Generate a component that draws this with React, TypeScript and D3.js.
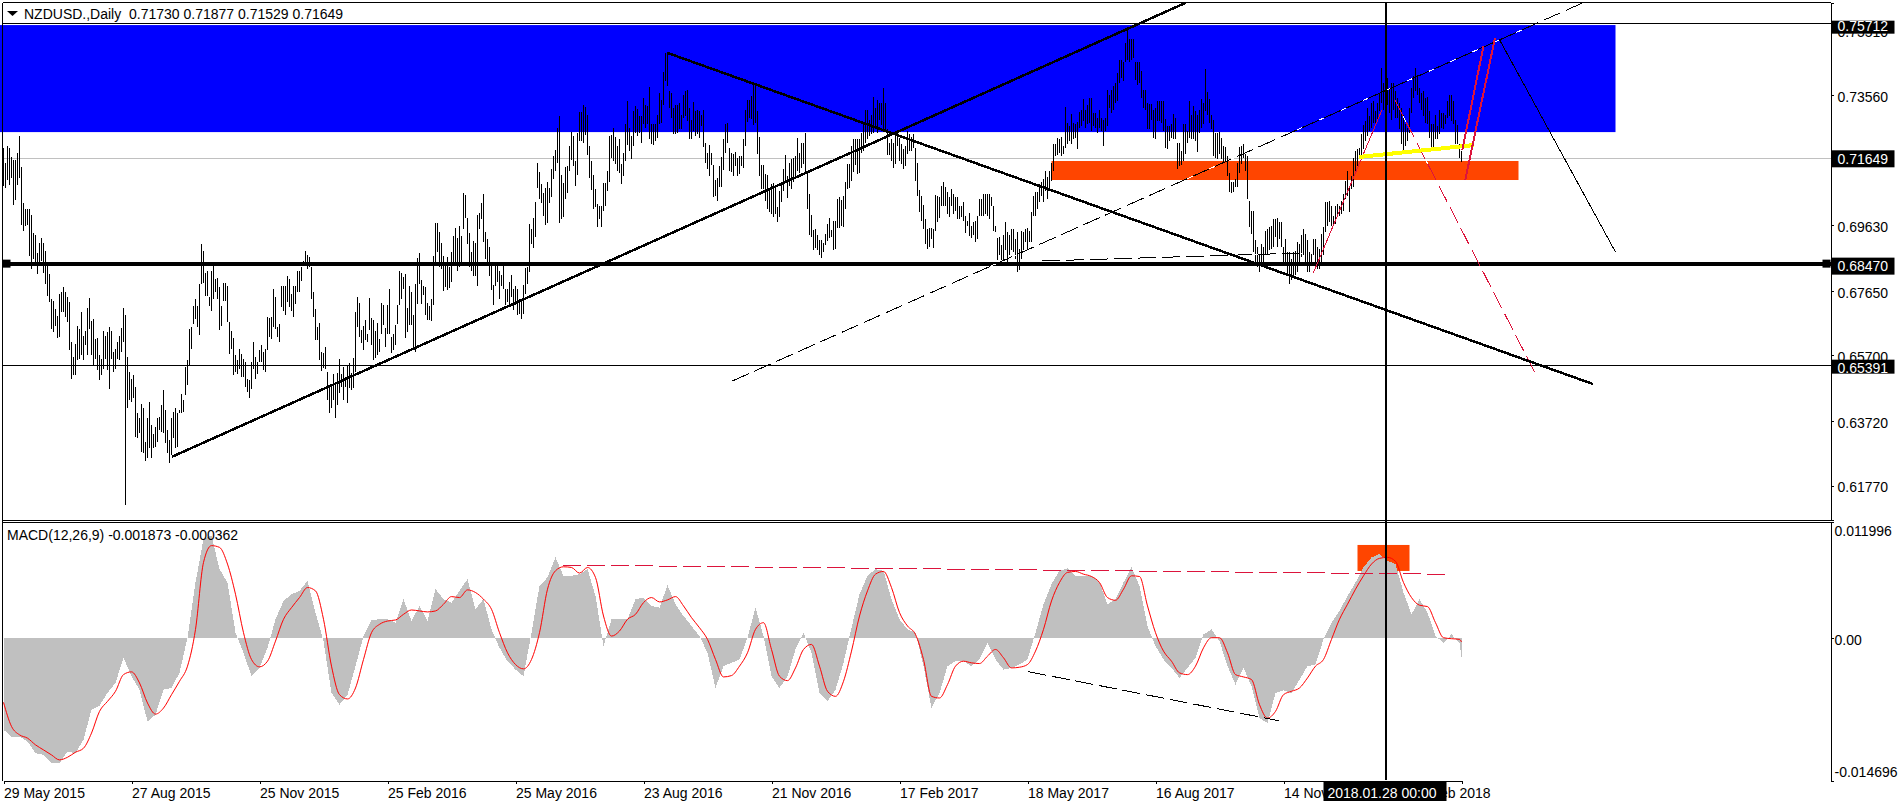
import { useEffect, useRef } from 'react'
import * as d3 from 'd3'

// Daily bars, in 1/10000 of a price unit
const barHighs = [
  7195,7150,7203,7195,7170,7160,7160,7180,7232,7140,7030,7012,7012,7012,6995,6940,6932,6880,6910,6925,
  6910,6885,6840,6815,6740,6735,6710,6690,6755,6760,6775,6760,6745,6730,6610,6565,6605,6660,6650,6702,
  6630,6645,6712,6742,6675,6680,6620,6622,6570,6560,6645,6630,6640,6655,6645,6580,6590,6612,6630,6652,
  6712,6692,6565,6520,6500,6510,6475,6395,6380,6422,6410,6310,6380,6430,6360,6332,6355,6380,6385,6420,
  6465,6405,6345,6315,6380,6400,6410,6395,6405,6455,6435,6535,6555,6650,6655,6720,6740,6720,6785,6905,
  6885,6820,6825,6745,6825,6845,6800,6805,6775,6720,6790,6790,6780,6670,6645,6622,6570,6555,6588,6575,
  6560,6550,6500,6495,6550,6610,6565,6550,6585,6602,6580,6590,6685,6682,6685,6770,6745,6655,6665,6780,
  6780,6780,6810,6800,6755,6780,6780,6825,6825,
  6836,6856,6884,6873,6866,6836,6761,6711,6656,6668,6581,6576,6596,6521,6481,6476,6513,6491,6516,6559,
  6513,6536,6506,6541,6546,6516,6561,6701,6746,6729,6646,6659,6676,6636,6743,6683,6676,6643,6669,6621,
  6729,6721,6653,6723,6771,6626,6636,6661,6721,6825,6819,6806,6816,6713,6781,6761,6691,6786,6863,6879,
  6799,6781,6776,6729,6719,6741,6869,6969,6969,6941,6909,6871,6841,6866,6836,6881,6931,6956,6925,6961,
  6931,7059,7053,6986,6939,6881,6914,6909,6993,7001,7029,7056,6943,6921,6896,6851,6783,6851,6846,6826,
  6813,6846,6771,6771,6791,6813,6771,6781,6771,6741,6736,6783,6834,6836,6966,6953,6986,7033,7151,7124,
  7086,7061,7074,7094,7076,7133,7173,7191,7256,7293,7116,7091,7139,7143,7201,7243,7231,7156,7241,7306,
  7306,7326,7319,7296,7203,7158,7116,
  7072,7027,7022,7022,7090,7090,7127,7232,7234,7257,7230,7202,7222,7147,7182,7267,7339,7257,7232,7307,
  7324,7314,7294,7294,7347,7327,7322,7380,7267,7267,7267,7297,7362,7342,7424,7484,7484,7367,7362,7317,
  7327,7327,7332,7297,7357,7367,7372,7317,7282,7334,7307,7310,7307,7297,7312,7212,7182,7204,7182,7144,
  7100,7104,7142,7170,7222,7267,7270,7197,7180,7177,7184,7167,7172,7172,7222,7312,7340,7342,7352,7392,
  7387,7307,7230,7144,7144,7117,7114,7072,7087,7090,7077,7017,7067,7092,7134,7174,7112,7152,7162,7167,
  7172,7225,7182,7210,7212,7242,7122,7057,6994,6950,6952,6932,6917,6917,6910,6937,6967,6984,6950,6977,
  6977,7042,7047,7040,7050,7092,7147,7147,7202,7222,7222,7222,7224,7240,7272,7310,7312,7282,7297,7350,
  7317,7342,7332,7332,7377,7332,7252,7212,
  7222,7212,7237,7242,7227,7207,7192,7202,7247,7237,7230,7237,7197,7152,7070,7052,7024,6982,6952,6954,
  6954,6952,7054,7052,7047,7080,7092,7077,7062,7047,7072,7057,7047,7047,7022,7022,7032,6992,6977,7000,
  6962,6974,6977,6992,7042,7042,7057,7057,7057,7057,7047,7022,6962,6924,6927,6902,6932,6972,6942,6932,
  6952,6952,6922,6942,6892,6947,6942,6952,6954,6947,7002,7050,7062,7062,7087,7092,7102,7127,7107,7127,
  7152,7207,7207,7227,7224,7230,7202,7320,7270,7262,7300,7272,7267,7274,7304,7312,7344,7312,7327,7347,
  7347,7302,7302,7287,7312,7287,7282,7287,7372,7357,7372,7382,7392,7422,7462,7462,7457,7512,7552,7524,
  7524,7524,7457,7457,7457,7427,7372,7372,7332,7330,7330,7312,7317,7337,7339,7339,7339,7284,7262,7262,
  7267,7300,7287,7212,7212,7187,7267,
  7267,7247,7337,7297,7322,7307,7297,7312,7344,7332,7434,7365,7344,7297,7280,7242,7242,7244,7227,7202,
  7200,7172,7122,7092,7092,7102,7150,7200,7202,7207,7177,7172,7037,7007,7007,6917,6897,6877,6907,6897,
  6944,6952,6957,6962,6982,6982,6984,6972,6972,6897,6922,6882,6882,6862,6882,6884,6912,6907,6932,6952,
  6937,6917,6882,6877,6922,6922,6897,6892,6937,6957,7032,7032,7037,7022,6992,7022,7027,7022,7037,7057,
  7097,7127,7077,7112,7167,7187,7192,7197,7237,7264,7277,7317,7292,7332,7337,7307,7332,7362,7437,7392,
  7422,7407,7377,7392,7392,7367,7347,7332,7317,7297,7267,7257,7317,7377,7412,7437,7417,7377,7362,7367,
  7347,7350,7307,7267,7267,7297,7262,7312,7302,7302,7297,7337,7357,7357,7337,7282,7264,7207,7188,
]

const barLows = [
  7080,7075,7100,7085,7105,7025,7040,7085,7105,6965,6945,6960,6965,6870,6830,6860,6845,6815,6850,6855,
  6820,6785,6750,6732,6650,6640,6660,6622,6625,6700,6700,6685,6672,6585,6500,6510,6510,6555,6560,6570,
  6555,6600,6570,6650,6570,6540,6560,6525,6495,6510,6530,6560,6525,6470,6560,6520,6530,6560,6555,6580,
  6610,6118,6410,6435,6430,6440,6325,6320,6335,6280,6275,6250,6260,6290,6260,6290,6295,6310,6345,6340,
  6335,6305,6275,6245,6270,6320,6290,6295,6395,6395,6400,6450,6480,6540,6590,6665,6680,6655,6632,6785,
  6790,6750,6750,6720,6705,6740,6760,6740,6648,6660,6735,6735,6670,6575,6590,6510,6520,6515,6530,6505,
  6505,6475,6460,6442,6470,6530,6500,6515,6550,6550,6525,6520,6585,6625,6620,6655,6650,6625,6610,6715,
  6705,6692,6730,6715,6705,6685,6725,6760,6760,
  6796,6841,6841,6831,6836,6741,6686,6616,6616,6556,6523,6531,6528,6436,6396,6411,6436,6381,6421,6456,
  6476,6436,6476,6426,6471,6466,6471,6521,6656,6626,6606,6586,6616,6611,6646,6601,6556,6561,6571,6581,
  6636,6661,6596,6636,6636,6576,6586,6601,6666,6721,6741,6771,6623,6641,6661,6661,6591,6581,6726,6786,
  6726,6751,6691,6676,6676,6673,6721,6846,6881,6836,6831,6763,6776,6766,6773,6793,6846,6851,6826,6836,
  6841,6951,6986,6906,6836,6826,6811,6811,6779,6951,6981,6913,6861,6851,6811,6766,6721,6781,6791,6741,
  6781,6771,6721,6731,6721,6746,6706,6721,6691,6696,6679,6696,6756,6786,6821,6906,6893,6926,7076,7041,
  7031,6991,6963,6971,7031,7049,7101,7126,7151,6971,6983,6988,7041,7061,7126,7159,7143,7081,7116,7216,
  7216,7211,7236,7176,7106,7069,7013,
  7017,6957,6982,6957,7007,7022,7067,7092,7167,7157,7147,7127,7122,7087,7112,7157,7204,7187,7164,7202,
  7242,7232,7240,7212,7267,7257,7267,7222,7207,7204,7217,7227,7267,7272,7327,7397,7382,7317,7287,7237,
  7237,7242,7252,7252,7287,7292,7277,7224,7224,7247,7232,7237,7227,7262,7200,7152,7134,7112,7144,7047,
  7052,7037,7077,7077,7130,7182,7212,7127,7124,7112,7142,7110,7117,7142,7137,7202,7274,7287,7284,7264,
  7270,7177,7110,7072,7072,7037,7012,7004,6997,6987,6997,6974,6987,7032,7067,7092,7044,7082,7072,7092,
  7102,7127,7122,7137,7147,7122,7012,6934,6926,6887,6894,6887,6872,6864,6882,6902,6914,6924,6927,6887,
  6892,6954,6954,6962,6957,7012,7072,7074,7097,7124,7144,7117,7122,7180,7187,7212,7222,7232,7237,7242,
  7262,7240,7282,7264,7252,7244,7174,7174,
  7157,7137,7147,7202,7157,7147,7132,7142,7177,7187,7187,7197,7097,7052,7004,6977,6952,6907,6892,6897,
  6922,6894,6944,6972,6984,7022,7020,7022,6997,6987,7022,6997,7007,6982,6982,6987,6977,6940,6962,6930,
  6924,6932,6912,6922,6992,6990,6992,6997,6992,6982,7022,6947,6942,6857,6872,6857,6857,6887,6842,6872,
  6887,6882,6862,6822,6827,6862,6887,6912,6892,6912,6912,6992,6992,7012,7034,7052,7032,7067,7042,7072,
  7097,7127,7172,7174,7182,7172,7177,7197,7207,7217,7207,7222,7227,7194,7257,7262,7277,7257,7267,7272,
  7247,7262,7257,7242,7257,7247,7202,7247,7262,7317,7302,7312,7332,7337,7392,7407,7397,7457,7462,7457,
  7462,7467,7402,7387,7392,7347,7317,7312,7252,7252,7282,7227,7222,7277,7277,7272,7247,7197,7194,7217,
  7227,7222,7222,7134,7142,7144,7157,
  7177,7212,7227,7222,7222,7217,7184,7242,7257,7267,7307,7297,7272,7252,7172,7167,7162,7177,7162,7152,
  7157,7112,7062,7060,7062,7077,7077,7122,7147,7167,7127,7042,6957,6937,6882,6852,6837,6822,6842,6852,
  6872,6872,6887,6892,6897,6927,6897,6922,6897,6852,6852,6812,6787,6797,6807,6812,6822,6852,6867,6872,
  6852,6822,6822,6842,6872,6852,6832,6832,6842,6872,6942,6962,6972,6962,6967,6967,6987,6992,6997,7007,
  7042,7052,7002,7072,7077,7117,7142,7162,7172,7192,7217,7232,7247,7257,7272,7272,7282,7307,7332,7312,
  7302,7327,7302,7282,7312,7287,7287,7252,7207,7177,7202,7217,7242,7302,7347,7367,7357,7332,7312,7292,
  7272,7267,7227,7197,7187,7222,7222,7237,7257,7252,7267,7287,7292,7277,7267,7207,7207,7167,7153,
]

// MACD main and signal, one reading per macdStep bars, in 1/100000
const macdStep = 4
const macdHist = [
  -942,-1011,-1011,-1063,-1183,-1201,-1287,-1287,-1166,-1183,-1045,-735,-693,-562,-459,-200,-390,-528,-856,-787,
  -528,-511,-355,7,576,1025,1059,714,576,59,-148,-390,-304,-97,197,386,455,490,593,266,
  -28,-562,-683,-580,-286,24,190,197,197,162,404,179,335,179,507,404,369,490,611,300,
  404,93,-97,-235,-321,-390,59,542,628,835,645,645,662,714,438,-79,197,197,197,404,
  421,335,317,549,352,231,128,24,-148,-511,-286,-252,-217,7,317,24,-390,-511,-390,-114,
  59,-148,-562,-649,-528,-252,110,455,645,714,697,404,197,93,59,-286,-718,-562,-286,-235,
  -235,-286,-217,-52,-217,-321,-304,-269,-217,59,352,559,697,721,645,645,645,576,352,404,
  576,731,542,128,-79,-217,-304,-407,-304,-200,41,93,-28,-286,-476,-304,-493,-821,-873,
  -562,-535,-562,-424,-286,-269,-10,162,283,438,576,731,835,869,800,766,473,248,404,266,
  24,-45,41,-45,-187,
]
const macdSignal = [
  -659,-907,-994,-1028,-1097,-1149,-1201,-1252,-1225,-1173,-1132,-976,-752,-649,-545,-373,-345,-459,-666,-780,
  -718,-580,-442,-286,93,783,956,938,766,455,59,-217,-293,-235,-28,197,317,421,524,490,
  197,-286,-580,-624,-511,-217,59,145,179,190,248,293,283,273,283,352,431,421,500,473,
  404,300,59,-148,-269,-314,-217,59,507,697,738,731,673,731,628,231,24,76,197,248,
  369,421,376,397,431,335,214,110,-10,-217,-397,-383,-286,-148,93,162,-114,-390,-435,-304,
  -114,-62,-286,-545,-597,-442,-131,231,490,662,690,524,266,128,41,-217,-597,-614,-476,-286,
  -235,-252,-259,-183,-114,-200,-304,-297,-269,-131,93,386,576,680,690,662,638,576,421,393,
  507,645,638,335,59,-131,-235,-355,-373,-286,-97,7,7,-148,-373,-397,-424,-683,-821,
  -752,-580,-545,-511,-407,-286,-217,-10,197,352,507,645,766,825,835,794,576,421,342,328,
  162,7,-3,-10,-36,
]

const dateLabels = [
  '29 May 2015', '27 Aug 2015', '25 Nov 2015', '25 Feb 2016', '25 May 2016', '23 Aug 2016',
  '21 Nov 2016', '17 Feb 2017', '18 May 2017', '16 Aug 2017', '14 Nov 2017', '13 Feb 2018',
]
const dateStep = 64
const priceTicks = [0.7551, 0.7356, 0.7163, 0.6963, 0.6765, 0.657, 0.6372, 0.6177]
const macdTicks = [0.011996, 0, -0.014696]

// Price levels drawn across the whole pane
const resistance = 0.75712
const lastClose = 0.71649
const support = 0.6847
const lowerLevel = 0.65391

const blueZone = { from: -2, to: 806, top: 0.7567, bottom: 0.7244 }
const orangeZone = { from: 524, to: 757.5, top: 0.71568, bottom: 0.70994 }
const macdZone = { from: 677, to: 703, top: 0.00963, bottom: 0.00695 }

type Seg = [number, number, number, number]
const thickBlack: Seg[] = [
  [84.2, 0.6264, 591, 0.7634],
  [331.7, 0.74836, 794.7, 0.64837],
]
const dashedBlack: Seg[] = [
  [364.4, 0.64928, 789.6, 0.7634],
  [519.4, 0.6855, 649.4, 0.6879],
]
const thinBlack: Seg = [747.9, 0.7524, 805.9, 0.6883]
const redThick: Seg[] = [
  [729.4, 0.719, 740, 0.75038],
  [730.9, 0.70994, 745.7, 0.7527],
]
const redDashed: Seg = [695.7, 0.73408, 765.7, 0.65178]
const redThin: Seg = [654.9, 0.68187, 689.2, 0.73107]
const yellowLine: Seg = [677.9, 0.7169, 735.4, 0.7205]
const macdRedDash: Seg = [280, 0.00756, 720.9, 0.00661]
const macdBlackDash: Seg = [512.4, -0.00343, 637.5, -0.00848]
const crosshairBar = 691

const FONT = '"Liberation Sans", sans-serif'

export default function App() {
  const svgRef = useRef<SVGSVGElement>(null)

  useEffect(() => {
    if (!svgRef.current) return
    const svg = d3.select(svgRef.current)
    svg.selectAll('*').remove()

    const paneLeft = 2.5
    const paneRight = 1830.5
    const x = d3.scaleLinear().domain([0, barHighs.length - 1]).range([3.5, 3.5 + 2 * (barHighs.length - 1)])
    const y = d3.scaleLinear().domain([0.60733, 0.76336]).range([520, 3])
    const yMacd = d3.scaleLinear().domain([-0.014696, 0.011996]).range([781, 522])

    const segment = (g: d3.Selection<any, any, any, any>, s: Seg, yScale: d3.ScaleLinear<number, number>, color: string, width: number, dash?: string) =>
      g.append('line')
        .attr('x1', x(s[0])).attr('y1', yScale(s[1]))
        .attr('x2', x(s[2])).attr('y2', yScale(s[3]))
        .attr('stroke', color)
        .attr('stroke-width', width)
        .attr('stroke-dasharray', dash ?? null)
        .attr('shape-rendering', 'crispEdges')

    const hLevel = (p: number, color: string, width: number) =>
      main.append('line')
        .attr('x1', paneLeft).attr('x2', paneRight)
        .attr('y1', y(p)).attr('y2', y(p))
        .attr('stroke', color)
        .attr('stroke-width', width)
        .attr('shape-rendering', 'crispEdges')

    const main = svg.append('g')

    // Zones sit behind the bars
    main.append('rect')
      .attr('x', x(blueZone.from)).attr('y', y(blueZone.top))
      .attr('width', x(blueZone.to) - x(blueZone.from))
      .attr('height', y(blueZone.bottom) - y(blueZone.top))
      .attr('fill', '#0000ff')
    main.append('rect')
      .attr('x', x(orangeZone.from)).attr('y', y(orangeZone.top))
      .attr('width', x(orangeZone.to) - x(orangeZone.from))
      .attr('height', y(orangeZone.bottom) - y(orangeZone.top))
      .attr('fill', '#ff4500')

    hLevel(lastClose, '#c0c0c0', 1)
    hLevel(resistance, '#000', 1)
    hLevel(lowerLevel, '#000', 1)

    // Price bars
    main.append('g')
      .selectAll('line')
      .data(barHighs)
      .join('line')
      .attr('x1', (_, i) => x(i))
      .attr('x2', (_, i) => x(i))
      .attr('y1', d => y(d / 10000))
      .attr('y2', (_, i) => y(barLows[i] / 10000))
      .attr('stroke', '#000')
      .attr('stroke-width', 1)
      .attr('shape-rendering', 'crispEdges')

    // Drawn objects over the bars
    hLevel(support, '#000', 4)
    const handleX = [paneLeft, paneRight - 8]
    main.selectAll('rect.handle')
      .data(handleX)
      .join('rect')
      .attr('class', 'handle')
      .attr('x', d => d).attr('y', y(support) - 4)
      .attr('width', 8).attr('height', 8)
      .attr('fill', '#000')

    dashedBlack.forEach(s => {
      segment(main, s, y, '#fff', 1)
      segment(main, s, y, '#000', 1, '18 6')
    })
    segment(main, redThin, y, '#dc143c', 1)
    segment(main, redDashed, y, '#fff', 1)
    segment(main, redDashed, y, '#dc143c', 1, '18 6')
    segment(main, thinBlack, y, '#000', 1)
    thickBlack.forEach(s => segment(main, s, y, '#000', 2.5))
    segment(main, yellowLine, y, '#ffff00', 4)
    redThick.forEach(s => segment(main, s, y, '#dc143c', 2))

    // MACD pane
    const sub = svg.append('g')
    sub.append('rect')
      .attr('x', x(macdZone.from)).attr('y', yMacd(macdZone.top))
      .attr('width', x(macdZone.to) - x(macdZone.from))
      .attr('height', yMacd(macdZone.bottom) - yMacd(macdZone.top))
      .attr('fill', '#ff4500')

    const macdBar = (k: number) => Math.min(k * macdStep, barHighs.length - 1)
    const histArea = d3.area<number>()
      .x((_, k) => x(macdBar(k)))
      .y0(yMacd(0))
      .y1(d => yMacd(d / 100000))
    sub.append('path')
      .attr('d', histArea(macdHist))
      .attr('fill', '#c0c0c0')
      .attr('shape-rendering', 'crispEdges')

    const signalLine = d3.line<number>()
      .x((_, k) => x(macdBar(k)))
      .y(d => yMacd(d / 100000))
      .curve(d3.curveMonotoneX)
    sub.append('path')
      .attr('d', signalLine(macdSignal))
      .attr('fill', 'none')
      .attr('stroke', '#ff0000')
      .attr('stroke-width', 1)

    segment(sub, macdRedDash, yMacd, '#dc143c', 1, '18 6')
    segment(sub, macdBlackDash, yMacd, '#000', 1, '18 6')

    // Frame and pane separator
    const frame = svg.append('g').attr('stroke', '#000').attr('shape-rendering', 'crispEdges').attr('stroke-width', 1)
    frame.append('line').attr('x1', paneLeft).attr('x2', paneRight).attr('y1', 2.5).attr('y2', 2.5)
    frame.append('line').attr('x1', paneLeft).attr('x2', paneLeft).attr('y1', 2.5).attr('y2', 780.5)
    frame.append('line').attr('x1', paneLeft).attr('x2', paneRight).attr('y1', 520).attr('y2', 520)
    frame.append('line').attr('x1', paneLeft).attr('x2', paneRight).attr('y1', 522).attr('y2', 522)

    // Axes
    const styleAxis = (g: d3.Selection<any, any, any, any>) => {
      g.select('.domain').attr('stroke', '#000').attr('shape-rendering', 'crispEdges')
      g.selectAll('.tick line').attr('stroke', '#000').attr('shape-rendering', 'crispEdges')
      g.selectAll('text').attr('fill', '#000').attr('font-family', FONT).attr('font-size', 14)
    }

    const priceAxis = svg.append('g')
      .attr('transform', `translate(${paneRight},0)`)
      .call(d3.axisRight(y).tickValues(priceTicks).tickFormat(d => (d as number).toFixed(5)).tickSize(3).tickPadding(4))
    priceAxis.call(styleAxis)
    priceAxis.selectAll('text').attr('dy', '0.45em')

    const macdAxis = svg.append('g')
      .attr('transform', `translate(${paneRight},0)`)
      .call(d3.axisRight(yMacd).tickValues(macdTicks)
        .tickFormat(d => (d === 0 ? '0.00' : (d as number).toFixed(6))).tickSize(3).tickPadding(1))
    macdAxis.call(styleAxis)
    macdAxis.selectAll('text')
      .attr('y', d => (d as number) > 0 ? 9 : (d as number) < 0 ? -9 : 2)
      .attr('dy', '0.32em')

    const timeAxis = svg.append('g')
      .attr('transform', 'translate(0,780.5)')
      .call(d3.axisBottom(x)
        .tickValues(dateLabels.map((_, i) => i * dateStep))
        .tickFormat((_, i) => dateLabels[i])
        .tickSize(3).tickPadding(3))
    timeAxis.call(styleAxis)
    timeAxis.selectAll('text').attr('text-anchor', 'start').attr('y', 6).attr('dy', '0.85em')

    // Crosshair
    svg.append('line')
      .attr('x1', x(crosshairBar)).attr('x2', x(crosshairBar))
      .attr('y1', 3).attr('y2', 780)
      .attr('stroke', '#000').attr('stroke-width', 2)
      .attr('shape-rendering', 'crispEdges')
    svg.append('rect')
      .attr('x', x(crosshairBar) - 62).attr('y', 782)
      .attr('width', 123).attr('height', 19)
      .attr('fill', '#000')
    svg.append('text')
      .attr('x', x(crosshairBar) - 58).attr('y', 798)
      .attr('fill', '#fff').attr('font-family', FONT).attr('font-size', 14)
      .text('2018.01.28 00:00')

    // Level labels on the price axis
    const levels = [
      { value: resistance, above: 3, height: 13, base: 7.5 },
      { value: lastClose, above: 8, height: 17, base: 6 },
      { value: support, above: 6, height: 17, base: 7.5 },
      { value: lowerLevel, above: 6, height: 14, base: 7 },
    ]
    const labelGroup = svg.append('g')
    labelGroup.selectAll('rect')
      .data(levels)
      .join('rect')
      .attr('x', paneRight + 1)
      .attr('y', d => y(d.value) - d.above)
      .attr('width', 63)
      .attr('height', d => d.height)
      .attr('fill', '#000')
    labelGroup.selectAll('text')
      .data(levels)
      .join('text')
      .attr('x', paneRight + 7)
      .attr('y', d => y(d.value) + d.base)
      .attr('fill', '#fff').attr('font-family', FONT).attr('font-size', 14)
      .text(d => d.value.toFixed(5))

    // Header texts
    svg.append('path')
      .attr('d', d3.line()([[7, 11], [18, 11], [12.5, 16]])! + 'Z')
      .attr('fill', '#000')
    svg.append('text')
      .attr('x', 24).attr('y', 19)
      .attr('fill', '#000').attr('font-family', FONT).attr('font-size', 14)
      .attr('xml:space', 'preserve')
      .style('white-space', 'pre')
      .text('NZDUSD.,Daily  0.71730 0.71877 0.71529 0.71649')
    svg.append('text')
      .attr('x', 7).attr('y', 540)
      .attr('fill', '#000').attr('font-family', FONT).attr('font-size', 14)
      .text('MACD(12,26,9) -0.001873 -0.000362')
  }, [])

  return (
    <svg
      ref={svgRef}
      width={1898}
      height={807}
      style={{ position: 'absolute', left: 0, top: 0, display: 'block', background: '#fff' }}
    />
  )
}
